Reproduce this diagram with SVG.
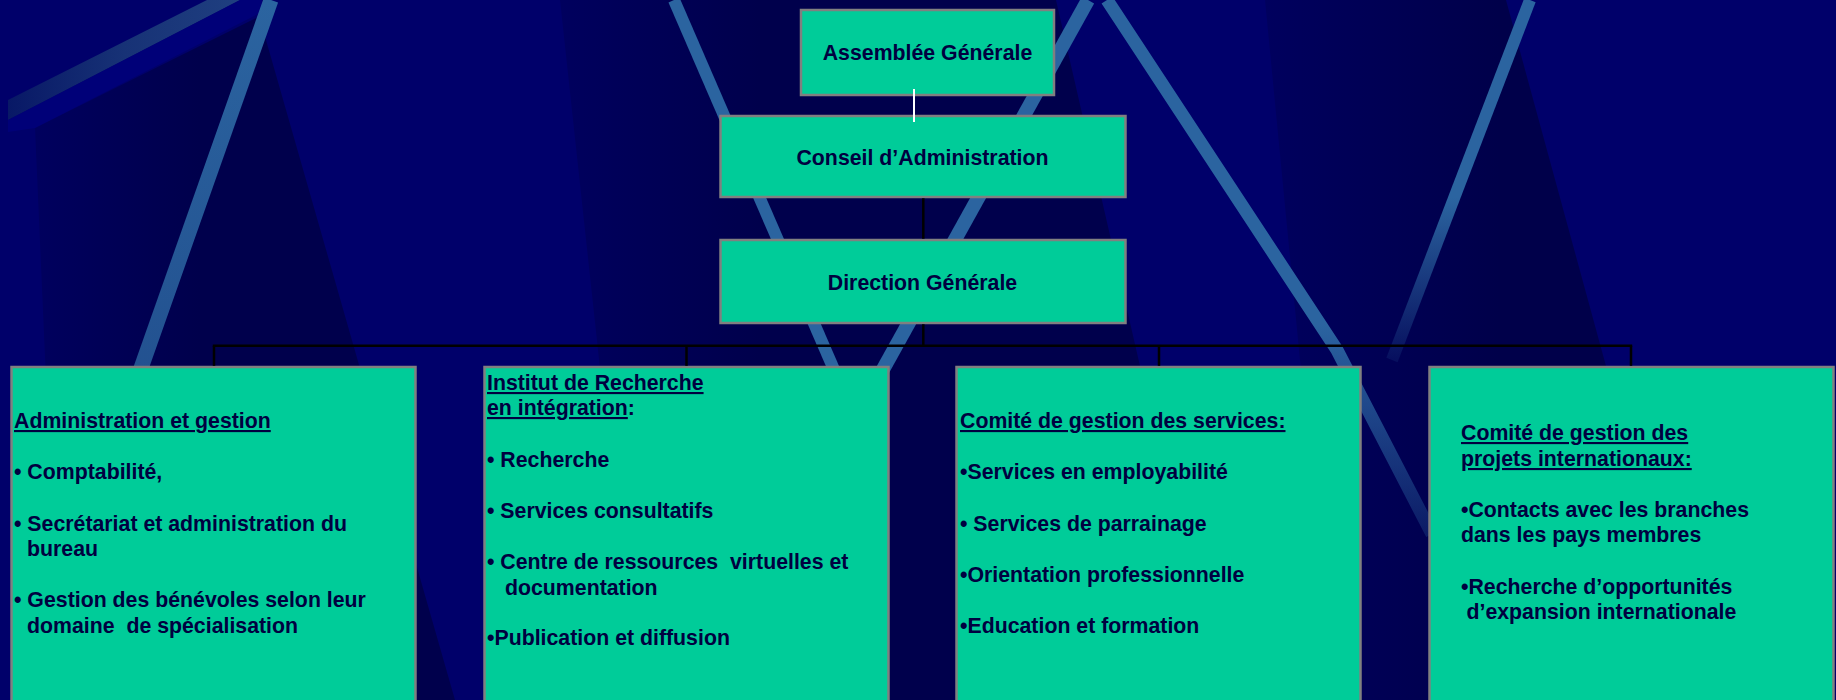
<svg xmlns="http://www.w3.org/2000/svg" width="1836" height="700" viewBox="0 0 1836 700">
<defs>
<linearGradient id="band" x1="8" y1="0" x2="240" y2="0" gradientUnits="userSpaceOnUse">
<stop offset="0" stop-color="#081866"/><stop offset="0.5" stop-color="#173276"/><stop offset="1" stop-color="#1f3f80"/>
</linearGradient>
<linearGradient id="darkA" x1="35" y1="0" x2="200" y2="0" gradientUnits="userSpaceOnUse">
<stop offset="0" stop-color="#00005E"/><stop offset="1" stop-color="#00004C"/>
</linearGradient>
<linearGradient id="darkB" x1="560" y1="0" x2="760" y2="0" gradientUnits="userSpaceOnUse">
<stop offset="0" stop-color="#00005E"/><stop offset="1" stop-color="#00004C"/>
</linearGradient>
<linearGradient id="darkC" x1="1265" y1="0" x2="1500" y2="0" gradientUnits="userSpaceOnUse">
<stop offset="0" stop-color="#00005E"/><stop offset="1" stop-color="#00004A"/>
</linearGradient>
<linearGradient id="fade5" x1="0" y1="0" x2="0" y2="540" gradientUnits="userSpaceOnUse">
<stop offset="0" stop-color="#2B64A0"/><stop offset="0.6" stop-color="#2B64A0"/><stop offset="1" stop-color="#2B64A0" stop-opacity="0.25"/>
</linearGradient>
<linearGradient id="fade6" x1="0" y1="0" x2="0" y2="360" gradientUnits="userSpaceOnUse">
<stop offset="0" stop-color="#2B64A0"/><stop offset="0.55" stop-color="#2B64A0"/><stop offset="1" stop-color="#2B64A0" stop-opacity="0.15"/>
</linearGradient>
<linearGradient id="fade1" x1="0" y1="0" x2="0" y2="400" gradientUnits="userSpaceOnUse">
<stop offset="0" stop-color="#2B64A0"/><stop offset="1" stop-color="#22508f"/>
</linearGradient>
<style>
.bg{fill:#00006A}
.stripe{fill:none;stroke-linecap:butt}
.box{fill:#00CC99;stroke:#808080;stroke-width:2.5}
.t{font-family:"Liberation Sans",Arial,Helvetica,sans-serif;font-weight:bold;font-size:21.3px;fill:#000040}
.c{text-anchor:middle}
.u{text-decoration:underline}
.conn{stroke:#000000;stroke-width:2.5;fill:none}
.white{stroke:#ffffff;stroke-width:2;fill:none}
</style>
</defs>

<g id="background">
<rect class="bg" x="0" y="0" width="1836" height="700"/>
<polygon fill="url(#darkA)" points="35,128 262,15 266,40 455,700 60,700"/>
<polygon fill="url(#darkB)" points="560,0 1056,0 1140,366 1218,700 636,700"/>
<polygon fill="url(#darkC)" points="1265,0 1506,0 1606,366 1697,700 1333,700"/>
<polygon fill="url(#band)" points="207,0 240,0 8,120 8,100"/>
<polygon fill="#00007c" opacity="0.8" points="240,0 262,0 262,12 35,128 8,132 8,120"/>
<line class="stripe" x1="271" y1="0" x2="128" y2="405" stroke="url(#fade1)" stroke-width="15"/>
<line class="stripe" x1="674" y1="0" x2="845" y2="395" stroke="#2B64A0" stroke-width="12"/>
<line class="stripe" x1="1088" y1="0" x2="866" y2="400" stroke="#2B64A0" stroke-width="14"/>
<polyline class="stripe" points="1107,0 1337,350 1432,534" stroke="url(#fade5)" stroke-width="13"/>
<line class="stripe" x1="1530" y1="0" x2="1392" y2="360" stroke="url(#fade6)" stroke-width="12"/>
</g>

<g id="node-assemblee">
<rect class="box" x="801" y="10" width="253" height="85"/>
<text class="t c" x="927.5" y="60">Assemblée Générale</text>
</g>
<g id="node-conseil">
<rect class="box" x="720.5" y="116" width="405" height="81"/>
<text class="t c" x="922.5" y="165">Conseil d’Administration</text>
</g>
<g id="node-direction">
<rect class="box" x="720.5" y="240" width="405" height="83"/>
<text class="t c" x="922.5" y="290">Direction Générale</text>
</g>

<g id="node-administration">
<rect class="box" x="11.5" y="367" width="404" height="360"/>
<text class="t" x="14" y="428"><tspan class="u">Administration et gestion</tspan></text>
<text class="t" x="14" y="479">• Comptabilité,</text>
<text class="t" x="14" y="530.5">• Secrétariat et administration du</text>
<text class="t" x="27" y="556">bureau</text>
<text class="t" x="14" y="607">• Gestion des bénévoles selon leur</text>
<text class="t" x="27" y="632.5" xml:space="preserve">domaine  de spécialisation</text>
</g>

<g id="node-institut">
<rect class="box" x="484.5" y="367" width="404" height="360"/>
<text class="t" x="487" y="390"><tspan class="u">Institut de Recherche</tspan></text>
<text class="t" x="487" y="415"><tspan class="u">en intégration</tspan>:</text>
<text class="t" x="487" y="466.5">• Recherche</text>
<text class="t" x="487" y="517.5">• Services consultatifs</text>
<text class="t" x="487" y="569" xml:space="preserve">• Centre de ressources  virtuelles et</text>
<text class="t" x="505" y="595">documentation</text>
<text class="t" x="487" y="645">•Publication et diffusion</text>
</g>

<g id="node-services">
<rect class="box" x="956.5" y="367" width="404" height="360"/>
<text class="t" x="960" y="428"><tspan class="u">Comité de gestion des services:</tspan></text>
<text class="t" x="960" y="479">•Services en employabilité</text>
<text class="t" x="960" y="531">• Services de parrainage</text>
<text class="t" x="960" y="582">•Orientation professionnelle</text>
<text class="t" x="960" y="632.5">•Education et formation</text>
</g>

<g id="node-international">
<rect class="box" x="1429.5" y="367" width="404" height="360"/>
<text class="t" x="1461" y="440"><tspan class="u">Comité de gestion des</tspan></text>
<text class="t" x="1461" y="466"><tspan class="u">projets internationaux:</tspan></text>
<text class="t" x="1461" y="516.5">•Contacts avec les branches</text>
<text class="t" x="1461" y="542">dans les pays membres</text>
<text class="t" x="1461" y="594">•Recherche d’opportunités</text>
<text class="t" x="1466.5" y="619">d’expansion internationale</text>
</g>

<g id="connectors">
<line class="white" x1="914" y1="89" x2="914" y2="122"/>
<line class="conn" x1="923.3" y1="198.3" x2="923.3" y2="238.7" stroke-width="2"/>
<line class="conn" x1="923.3" y1="324.3" x2="923.3" y2="346"/>
<line class="conn" x1="212.8" y1="345.8" x2="1632.2" y2="345.8" stroke-width="3"/>
<line class="conn" x1="214" y1="345.8" x2="214" y2="365.8"/>
<line class="conn" x1="686.5" y1="345.8" x2="686.5" y2="365.8"/>
<line class="conn" x1="1159" y1="345.8" x2="1159" y2="365.8"/>
<line class="conn" x1="1631" y1="345.8" x2="1631" y2="365.8"/>
</g>
</svg>
